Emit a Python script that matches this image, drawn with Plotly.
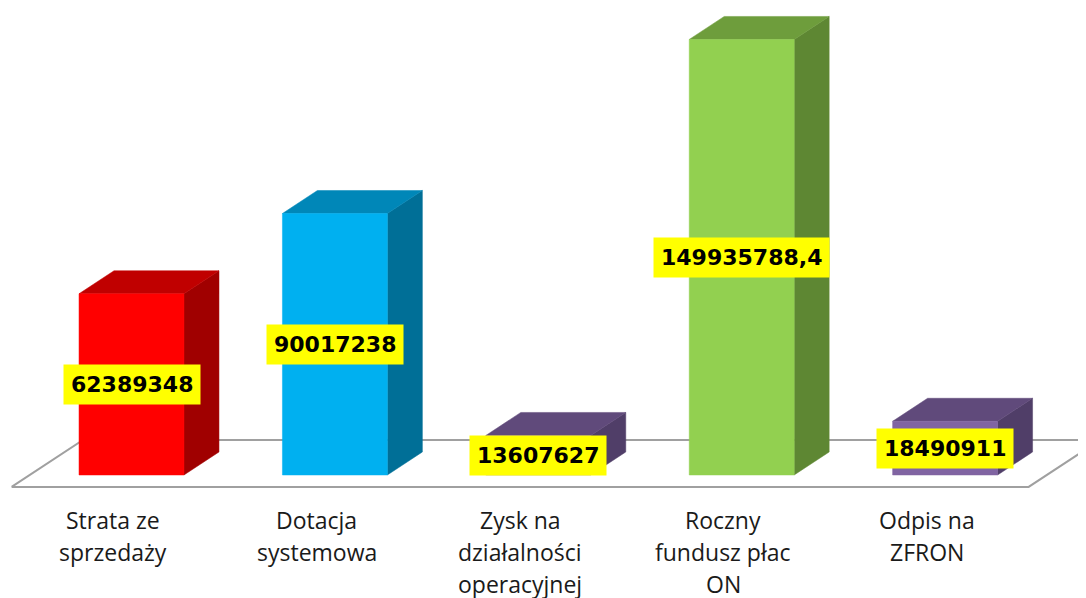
import plotly.graph_objects as go

categories = ["Strata ze<br>sprzedaży", "Dotacja<br>systemowa", "Zysk na<br>działalności<br>operacyjnej",
              "Roczny<br>fundusz płac<br>ON", "Odpis na<br>ZFRON"]
values = [62389348, 90017238, 13607627, 149935788.4, 18490911]
front_colors = ["#FF0000", "#00B0F0", "#8064A2", "#92D050", "#8064A2"]
top_colors = ["#C00000", "#0087B8", "#604A7B", "#6E9D3C", "#604A7B"]
side_colors = ["#A00000", "#006F97", "#503E68", "#5E8733", "#503E68"]

# fake 3d geometry (category units / millions)
BAR_W = 0.516
DX = 0.172
DY = 7.92
SCALE = 1e6


def fmt(v):
  if v == int(v):
    return str(int(v))
  return f"{v:.1f}".replace(".", ",")


def face(xs, ys, color):
  return go.Scatter(
    x=xs + [xs[0]], y=ys + [ys[0]],
    mode="lines", fill="toself", fillcolor=color,
    line=dict(color=color, width=0.5),
    hoverinfo="skip", showlegend=False
  )


fig = go.Figure()

# floor
f0, f1 = -0.52, 1.52
fx0, fx1 = -0.5, len(values) - 0.5
fig.add_trace(go.Scatter(
  x=[fx0 + f0 * DX, fx1 + f0 * DX, fx1 + f1 * DX, fx0 + f1 * DX, fx0 + f0 * DX],
  y=[f0 * DY, f0 * DY, f1 * DY, f1 * DY, f0 * DY],
  mode="lines", fill="toself", fillcolor="white",
  line=dict(color="#A0A0A0", width=2),
  hoverinfo="skip", showlegend=False
))

for i, val in enumerate(values):
  v = val / SCALE
  l, r = i - BAR_W / 2, i + BAR_W / 2
  # side
  fig.add_trace(face([r, r + DX, r + DX, r], [0, DY, v + DY, v], side_colors[i]))
  # top
  fig.add_trace(face([l, r, r + DX, l + DX], [v, v, v + DY, v + DY], top_colors[i]))
  # front
  fig.add_trace(face([l, r, r, l], [0, 0, v, v], front_colors[i]))

  fig.add_annotation(
    x=i, y=v / 2, xref="x", yref="y", text=fmt(val), showarrow=False,
    font=dict(family="DejaVu Sans", size=22, color="black", weight="bold"),
    bgcolor="#FFFF00", borderpad=7, xanchor="center", yanchor="middle"
  )

  for j, line in enumerate(categories[i].split("<br>")):
    fig.add_annotation(
      x=i - 0.09, y=-15.5, xref="x", yref="y", text=line, showarrow=False,
      yshift=-32 * j, xanchor="center", yanchor="middle",
      font=dict(family="Open Sans", size=23, color="#1a1a1a")
    )

# page has an 8px body margin, shift the ranges to compensate
fig.update_layout(
  width=1086, height=598,
  margin=dict(l=0, r=0, t=0, b=0),
  paper_bgcolor="white", plot_bgcolor="white",
  xaxis=dict(range=[-0.6072, 4.732], visible=False, fixedrange=True),
  yaxis=dict(range=[-45.1, 160.76], visible=False, fixedrange=True),
  showlegend=False
)

fig.write_html("out.html")
